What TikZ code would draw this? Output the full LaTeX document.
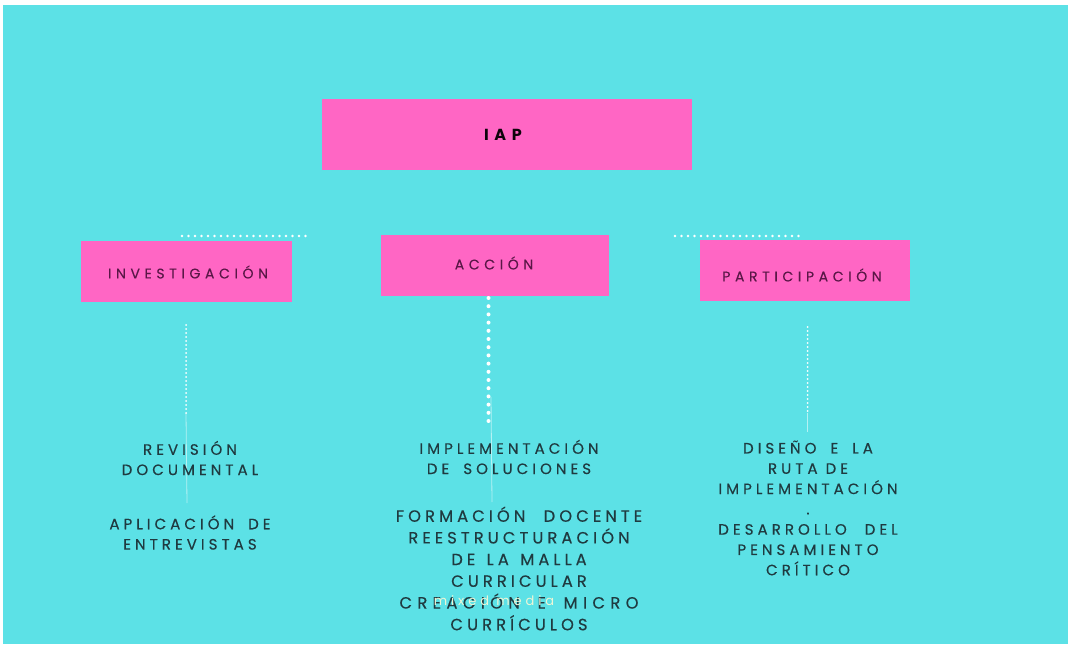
\documentclass[tikz,border=0pt]{standalone}
\usepackage{fontspec}
\setmainfont{Poppins}
\newfontfamily\spc[LetterSpace=27, FakeBold=0.4]{Poppins}
\newfontfamily\spcm[LetterSpace=25, FakeBold=0.4]{Poppins}
\newfontfamily\spcmw[LetterSpace=33, FakeBold=0.4]{Poppins}
\newfontfamily\spcbox[LetterSpace=33, FakeBold=0.2]{Poppins}
\newfontfamily\spcb[LetterSpace=35]{Poppins Bold}
\newfontfamily\spcw[LetterSpace=30]{Poppins}
\newcommand\xsp[1]{\hspace{#1pt}}
\definecolor{bg}{HTML}{5CE1E6}
\definecolor{pinkbox}{HTML}{FF66C4}
\definecolor{boxtxt}{HTML}{5A1747}
\definecolor{bodytxt}{HTML}{1F3A40}
\definecolor{marktxt}{HTML}{EEF5D6}
\tikzset{
  pbox/.style={fill=pinkbox, draw=none, inner sep=0pt},
  boxlbl/.style={inner sep=0pt, text=boxtxt, font=\spcbox\fontsize{14}{16}\selectfont},
  body/.style={text=bodytxt, align=center, inner sep=0pt, font=\spc\fontsize{15}{20.3}\selectfont},
  hdots/.style={white, line width=2.6pt, line cap=round, dash pattern=on 0pt off 6.5pt},
  vdotsbig/.style={white, line width=4pt, line cap=round, dash pattern=on 0pt off 8.2pt},
  vdotssmall/.style={white, line width=2pt, line cap=round, dash pattern=on 0pt off 4pt},
  faint/.style={white, opacity=0.55, line width=0.8pt}
}
\begin{document}
\begin{tikzpicture}[x=1pt,y=-1pt]
\fill[white] (0,0) rectangle (1068,647);
\useasboundingbox (0,0) rectangle (1068,647);
\fill[bg] (3,5) rectangle (1068,644);

% boxes
\node[pbox, minimum width=370pt, minimum height=71pt] (iap) at (507,134.5) {};
\node[pbox, minimum width=211pt, minimum height=61pt] (inv) at (186.5,271.5) {};
\node[pbox, minimum width=228pt, minimum height=61pt] (acc) at (495,265.5) {};
\node[pbox, minimum width=210pt, minimum height=61pt] (par) at (805,270.5) {};
\node[boxlbl, font=\spcb\fontsize{16}{18}\selectfont, text=black!85!boxtxt] (iaptxt) at (503,135) {IAP};
\node[boxlbl] (invtxt) at (188,272) {INVESTIGACIÓN};
\node[boxlbl] (acctxt) at (494,263) {ACCIÓN};
\node[boxlbl] (partxt) at (802,275) {PARTICIPACIÓN};

% dotted lines
\coordinate (hl1) at (182,236);
\coordinate (hl2) at (312,236);
\coordinate (hr1) at (675,236);
\coordinate (hr2) at (805,236);
\draw[hdots] (hl1) -- (hl2);
\draw[hdots] (hr1) -- (hr2);

\coordinate (vl1) at (186,325);
\coordinate (vl2) at (186,413);
\coordinate (vl3) at (187,503);
\coordinate (vm1) at (488.5,298);
\coordinate (vm2) at (488.5,427);
\coordinate (vm3) at (491,397);
\coordinate (vm4) at (492,502);
\coordinate (vr1) at (807.5,327);
\coordinate (vr2) at (807.5,413);
\coordinate (vr3) at (807.5,432);
\draw[faint] (vl2) -- (vl3);
\draw[faint] (vm3) -- (vm4);
\draw[faint] (vr2) -- (vr3);
\draw[vdotssmall] (vl1) -- (vl2);
\draw[vdotsbig] (vm1) -- (vm2);
\draw[vdotssmall] (vr1) -- (vr2);

% texts
\node[body] (t1) at (190,458) {REVISIÓN\\DOCUMENTAL};
\node[body] (t2) at (190,532.5) {APLICACIÓN \xsp{6}DE\\ENTREVISTAS};
\node[body] (t3) at (509,457) {IMPLEMENTACIÓN\\DE \xsp{6}SOLUCIONES};
\node[body, font=\spcm\fontsize{16.3}{21.7}\selectfont] (t4) at (519,568.5) {FORMACIÓN \xsp{10}DOCENTE\\REESTRUCTURACIÓN\\DE \xsp{3}LA \xsp{3}MALLA\\CURRICULAR\\{\spcmw CREACIÓN \xsp{8}E \xsp{8}MICRO}\\CURRÍCULOS};
\node[body] (t5) at (808,508) {DISEÑO \xsp{6}E \xsp{6}LA\\RUTA DE\\IMPLEMENTACIÓN\\.\\DESARROLLO \xsp{10}DEL\\PENSAMIENTO\\CRÍTICO};
\node[text=marktxt, inner sep=0pt, font=\spcw\fontsize{13}{15}\selectfont] (wm) at (494,601) {mixed media};
\end{tikzpicture}
\end{document}
